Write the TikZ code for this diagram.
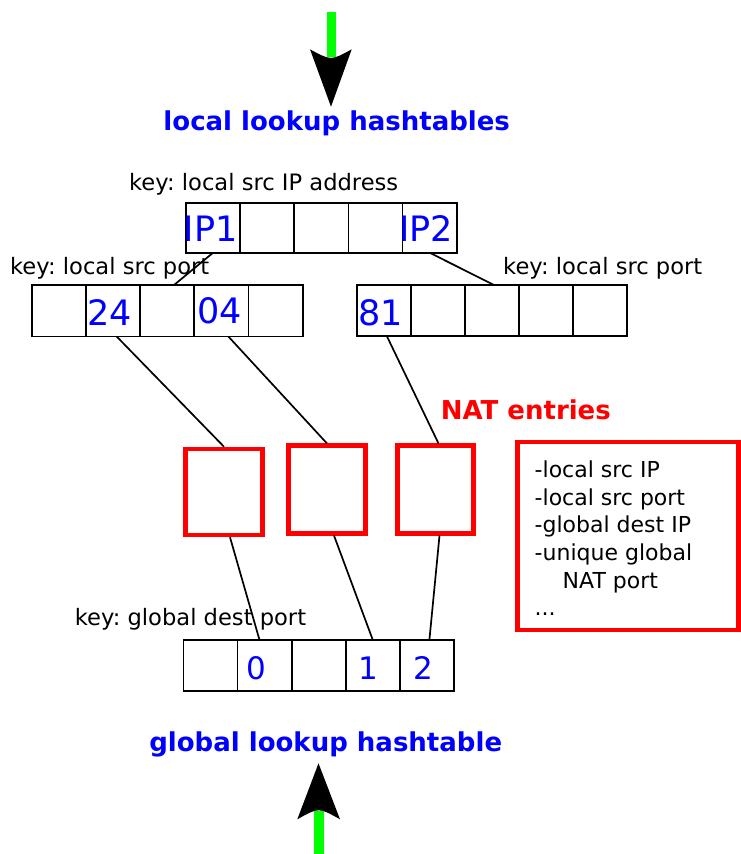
\documentclass[tikz,border=0pt]{standalone}
\usepackage{fontspec}
\setmainfont{DejaVu Sans}
\definecolor{pureblue}{RGB}{0,0,255}
\definecolor{purered}{RGB}{255,0,0}
\definecolor{puregreen}{RGB}{0,255,0}
\begin{document}
\frenchspacing
\begin{tikzpicture}[x=1pt,y=-1pt,
  cell/.style={draw=black, line width=1.7pt, minimum width=54.1pt, minimum height=50.5pt, inner sep=0pt, outer sep=0pt},
  natbox/.style={draw=purered, line width=4.5pt, inner sep=0pt, outer sep=2.25pt},
  conn/.style={draw=black, line width=1.7pt},
  keylab/.style={font=\fontsize{22.6}{26}\selectfont, anchor=base west, inner sep=0pt},
  bignum/.style={font=\fontsize{35}{40}\selectfont, text=pureblue, anchor=base west, inner sep=0pt},
  smallnum/.style={font=\fontsize{31}{36}\selectfont, text=pureblue, anchor=base west, inner sep=0pt},
  ttl/.style={font=\fontsize{26}{30}\selectfont\bfseries, text=pureblue, anchor=base, inner sep=0pt},
  greenline/.style={draw=puregreen},
  headfill/.style={fill=black}
]
\useasboundingbox (0,0) rectangle (741,854);

% top arrow
\coordinate (topA) at (331,12);
\coordinate (topB) at (331,57);
\coordinate (topTip) at (331,106.7);
\draw[greenline, line width=9pt] (topA) -- (topB);
\fill[headfill] (310,49.3) -- (topTip) -- (351.7,49.3) .. controls (331,60.7) .. (310,49.3) -- cycle;

% bottom arrow
\coordinate (botA) at (319.2,854);
\coordinate (botB) at (319.2,811);
\coordinate (botTip) at (318.5,763.3);
\draw[greenline, line width=9.7pt] (botA) -- (botB);
\fill[headfill] (297.3,819.3) -- (botTip) -- (340,819.3) .. controls (318.7,807.3) .. (297.3,819.3) -- cycle;

% titles
\node[ttl] (toptitle) at (336.7,130) {local lookup hashtables};
\node[ttl] (bottitle) at (325.7,751.7) {global lookup hashtable};

% key labels
\node[keylab] (kIP) at (129,190) {key: local src IP address};
\node[keylab] (kPortL) at (10,274) {key: local src port};
\node[keylab] (kPortR) at (503,274) {key: local src port};
\node[keylab] (kGlob) at (74.7,625) {key: global dest port};
\node[font=\fontsize{26}{30}\selectfont\bfseries, text=purered, anchor=base west, inner sep=0pt] (natlab) at (440.6,419) {NAT entries};

% tables
\foreach \i/\x in {1/213.1,2/267.2,3/321.3,4/375.4,5/429.6}
  \node[cell, minimum height=50pt] (t\i) at (\x,227.7) {};
\foreach \i/\x in {1/58.8,2/113,3/167.2,4/221.4,5/275.6}
  \node[cell, minimum height=51.5pt] (l\i) at (\x,310.8) {};
\foreach \i/\x in {1/383.8,2/437.9,3/492,4/546.1,5/600.2}
  \node[cell, minimum height=51pt] (r\i) at (\x,310.5) {};
\foreach \i/\x in {1/210.4,2/264.5,3/318.7,4/372.8,5/426.9}
  \node[cell, minimum height=50.7pt] (b\i) at (\x,665.3) {};

% numbers
\node[bignum] (nIP1) at (183.6,241.7) {IP1};
\node[bignum] (nIP2) at (399.3,241.7) {IP2};
\node[bignum] (n24) at (87.5,325) {24};
\node[bignum] (n04) at (197,323.5) {04};
\node[bignum] (n81) at (358.3,325) {81};
\node[smallnum] (n0) at (246.7,679) {0};
\node[smallnum] (n1) at (358.3,679) {1};
\node[smallnum] (n2) at (412.8,679) {2};

% NAT boxes
\node[natbox, minimum width=77pt, minimum height=86pt] (box1) at (224,492) {};
\node[natbox, minimum width=77.4pt, minimum height=87.6pt] (box2) at (327,489.5) {};
\node[natbox, minimum width=76.4pt, minimum height=87.6pt] (box3) at (435.5,489.5) {};
\node[natbox, minimum width=221pt, minimum height=188pt] (info) at (628,535.8) {};
\node[font=\fontsize{22}{27.6}\selectfont, align=left, anchor=base west, inner sep=0pt] (infotext) at (534.5,615.7)
  {-local src IP\\-local src port\\-global dest IP\\-unique global\\\hspace*{28pt}NAT port\\...};

% connectors
\draw[conn] (t1.south) -- ([xshift=6.8pt]l3.north);
\draw[conn] (t5.south) -- ([xshift=2pt]r3.north);
\draw[conn] ([xshift=3.7pt]l2.south) -- (box1.north);
\draw[conn] ([xshift=7pt]l4.south) -- (box2.north);
\draw[conn] ([xshift=3pt]r1.south) -- ([xshift=3pt]box3.north);
\draw[conn] ([xshift=6pt]box1.south) -- ([xshift=-5pt]b2.north);
\draw[conn] ([xshift=7pt]box2.south) -- (b4.north);
\draw[conn] ([xshift=4pt]box3.south) -- ([xshift=2.5pt]b5.north);
\end{tikzpicture}
\end{document}
